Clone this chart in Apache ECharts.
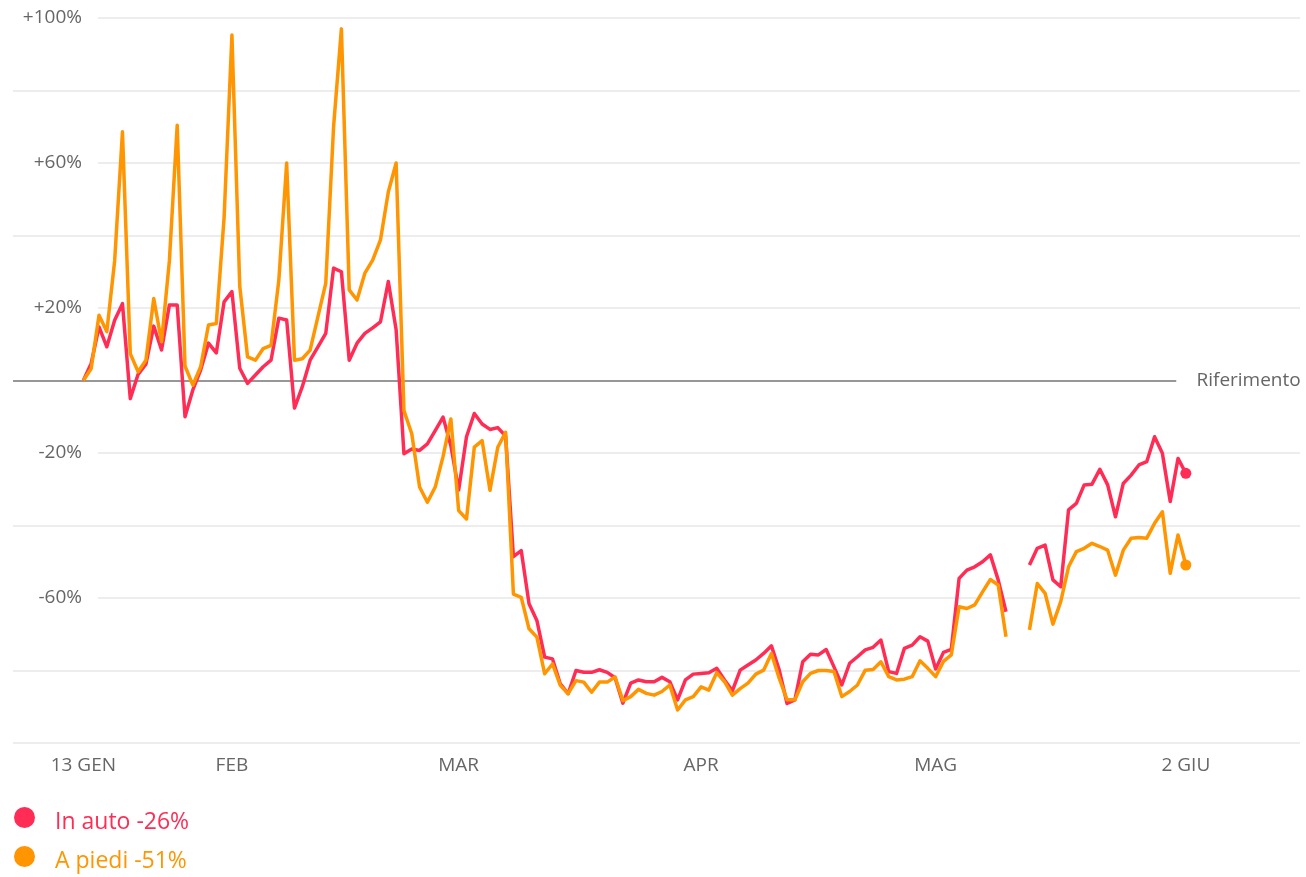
<!DOCTYPE html>
<html>
<head>
<meta charset="utf-8">
<title>Mobilità Italia</title>
<script src="https://cdn.jsdelivr.net/npm/echarts@6/dist/echarts.min.js"></script>
<style>
  html, body { margin: 0; padding: 0; background: #fff; }
  #chart { width: 1306px; height: 877px; }
</style>
</head>
<body>
<div id="chart"></div>
<script>
// un valore al giorno, dal 13 gennaio (indice 0) al 2 giugno 2020 (indice 141)
// 11 e 12 maggio mancano
const inAuto = [
  0, 4.7, 14.8, 9.3, 16.6, 21.2, -5, 1.7, 4.5, 15,
  8.4, 20.8, 20.8, -10, -2.6, 2.9, 10.3, 7.6, 21.7, 24.5,
  3.4, -0.8, 1.5, 3.8, 5.6, 17.2, 16.7, -7.6, -1.7, 5.6,
  9.3, 13, 31, 30, 5.6, 10.3, 13, 14.5, 16.2, 27.3,
  14, -20.2, -18.9, -19.3, -17.5, -13.8, -10.1, -18, -30.2, -15.5,
  -9.1, -12, -13.5, -13, -15.3, -48.6, -46.9, -61.6, -66.2, -76.3,
  -76.8, -83.7, -86.4, -80, -80.5, -80.5, -79.8, -80.5, -82, -89,
  -83.5, -82.6, -83.1, -83.1, -81.9, -83.1, -88.1, -82.6, -81, -80.8,
  -80.6, -79.4, -82.6, -85.6, -79.9, -78.5, -77.1, -75.3, -73.2, -79.9,
  -89.1, -88.1, -77.6, -75.5, -75.7, -74.2, -79, -84, -78, -76.2,
  -74.3, -73.6, -71.6, -80.3, -80.8, -73.9, -73, -70.7, -71.9, -79.6,
  -75, -74.2, -54.6, -52.3, -51.4, -50, -48.1, -55, -63.8, null,
  null, -50.9, -46.3, -45.4, -55, -56.9, -35.7, -33.9, -28.8, -28.6,
  -24.5, -28.8, -37.6, -28.4, -26.1, -23.3, -22.4, -15.5, -20.1, -33.4,
  -21.5, -25.6
];

const aPiedi = [
  0, 3.3, 18, 13.5, 33, 68.6, 7.4, 2.4, 5.6, 22.6,
  10.7, 33, 70.4, 4, -1.3, 3.8, 15.3, 15.7, 45, 95.3,
  26, 6.5, 5.6, 8.8, 9.7, 27.7, 60, 5.6, 6, 8.4,
  17.6, 26.8, 70, 97, 25, 22.2, 29.6, 33.2, 38.8, 52,
  60, -8.3, -14.7, -29.4, -33.6, -29.4, -21, -10.6, -35.9, -38.2,
  -18.4, -16.6, -30.3, -18.4, -14.3, -58.9, -59.8, -68.5, -70.8, -80.9,
  -78.2, -84.1, -86.4, -82.8, -83.2, -86, -83.2, -83.2, -81.8, -88.3,
  -87.2, -85.2, -86.3, -86.8, -85.8, -84, -90.9, -88.1, -87.2, -84.5,
  -85.4, -80.6, -83.1, -86.8, -85, -83.5, -81, -79.9, -75.3, -82.2,
  -88.1, -88.1, -83.1, -80.8, -80, -80, -80.3, -87.2, -85.8, -84,
  -79.9, -79.7, -77.6, -81.7, -82.6, -82.4, -81.7, -77.3, -79.4, -81.7,
  -77.5, -75.7, -62.4, -62.9, -61.9, -58.3, -54.9, -56.4, -70.7, null,
  null, -68.8, -56, -58.7, -67.2, -61, -51.4, -47.2, -46.3, -44.9,
  -45.8, -46.8, -53.7, -46.8, -43.5, -43.3, -43.5, -39.4, -36.2, -53.2,
  -42.6, -50.9
];

const seriesNames = ['In auto', 'A piedi'];
const seriesColors = ['#ff2d55', '#ff9500'];
const tickDays = [0, 19, 48, 79, 109, 141];
const tickLabels = ['13 GEN', 'FEB', 'MAR', 'APR', 'MAG', '2 GIU'];
const yTickValues = [100, 60, 20, -20, -60];
const refLabel = 'Riferimento';

// estensione asse x (giorni) e fine della linea di riferimento
const X_MIN = -9;
const X_MAX = 155.6;
const REF_END = 139.8;

const FONT = '"Open Sans", "Noto Sans", sans-serif';
const GREY = '#666';

const toPoints = (values, color) =>
  values.map((v, i) => {
    if (i === values.length - 1) {
      return { value: [i, v], symbol: 'circle', symbolSize: 11, itemStyle: { color } };
    }
    return [i, v === null ? '-' : v];
  });

const lastValue = arr => arr[arr.length - 1];
const allValues = [inAuto, aPiedi];

const chart = echarts.init(document.getElementById('chart'));

chart.setOption({
  animation: false,
  textStyle: { fontFamily: FONT },
  grid: {
    left: 13,
    right: 6,
    top: 18,
    bottom: 134,
    containLabel: false,
    outerBoundsMode: 'none'
  },
  legend: {
    orient: 'vertical',
    left: 14,
    top: 807,
    height: 80,
    padding: 0,
    icon: 'circle',
    itemWidth: 21,
    itemHeight: 21,
    itemGap: 12,
    selectedMode: false,
    data: seriesNames.map((name, i) => ({
      name,
      textStyle: { color: seriesColors[i] }
    })),
    formatter: name => {
      const idx = seriesNames.indexOf(name);
      return '{t|' + name + ' ' + Math.round(lastValue(allValues[idx])) + '%}';
    },
    textStyle: {
      fontFamily: FONT,
      fontSize: 23,
      rich: {
        t: { fontFamily: FONT, fontSize: 23, padding: [10, 0, 0, 15] }
      }
    }
  },
  xAxis: {
    type: 'value',
    min: X_MIN,
    max: X_MAX,
    axisLine: { show: false },
    axisTick: { show: false },
    splitLine: { show: false },
    axisLabel: {
      customValues: tickDays,
      formatter: v => tickLabels[tickDays.indexOf(v)] || '',
      color: GREY,
      fontSize: 19,
      fontFamily: FONT,
      margin: 13
    }
  },
  yAxis: {
    type: 'value',
    min: -100,
    max: 100,
    interval: 20,
    axisLine: { show: false },
    axisTick: { show: false },
    splitLine: { lineStyle: { color: '#ededed', width: 2 } },
    axisLabel: {
      inside: true,
      customValues: yTickValues,
      formatter: v => (v > 0 ? '+' : '') + v + '%',
      align: 'right',
      margin: 85,
      color: GREY,
      fontSize: 19,
      fontFamily: FONT,
      backgroundColor: '#fff',
      padding: [4, 16, 4, 40]
    }
  },
  series: seriesNames.map((name, i) => ({
    name,
    type: 'line',
    data: toPoints(allValues[i], seriesColors[i]),
    symbol: 'none',
    connectNulls: false,
    color: seriesColors[i],
    lineStyle: { color: seriesColors[i], width: 3.5, join: 'round' },
    itemStyle: { color: seriesColors[i] },
    emphasis: { disabled: true },
    z: 3 + i,
    markLine: i === 0 ? {
      silent: true,
      symbol: 'none',
      z: 1,
      lineStyle: { color: '#7a7a7a', width: 1.5, type: 'solid' },
      label: {
        show: true,
        position: 'end',
        formatter: refLabel,
        color: GREY,
        fontSize: 19,
        fontFamily: FONT,
        distance: 0,
        backgroundColor: '#fff',
        padding: [4, 8, 4, 20]
      },
      data: [[{ xAxis: X_MIN, yAxis: 0 }, { xAxis: REF_END, yAxis: 0 }]]
    } : undefined
  }))
});
</script>
</body>
</html>
